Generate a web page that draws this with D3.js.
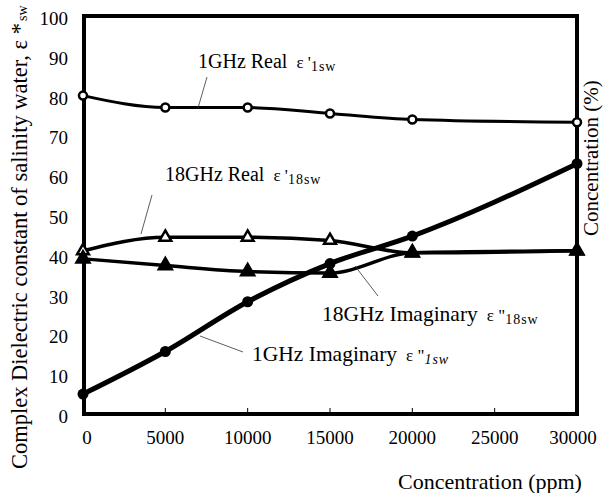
<!DOCTYPE html>
<html><head><meta charset="utf-8">
<script src="https://cdn.jsdelivr.net/npm/d3@7/dist/d3.min.js"></script>
<style>
html,body{margin:0;padding:0;background:#fff;overflow:hidden}
text{font-family:"Liberation Serif","Times New Roman",serif;fill:#000}
</style></head>
<body><svg id="c" width="604" height="493"></svg>
<script>
const concentration = [0, 5000, 10000, 15000, 20000, 30000];
const real1GHz  = [80, 77, 77, 75.5, 74, 73.3];
const imag1GHz  = [5, 15.7, 28.2, 37.8, 44.7, 62.9];
const real18GHz = [41, 44.4, 44.4, 43.6, 40.5, 41];
const imag18GHz = [39, 37.3, 35.8, 35.4, 40.5, 41];
const xTicks = [0, 5000, 10000, 15000, 20000, 25000, 30000];
const yTicks = [0, 10, 20, 30, 40, 50, 60, 70, 80, 90, 100];

const svg = d3.select("#c");
const x = d3.scaleLinear().domain([0, 30000]).range([83, 577]);
const y = d3.scaleLinear().domain([0, 100]).range([414, 16]);

// frame
svg.append("rect").attr("x", x(0)+1).attr("y", y(100)).attr("width", x(30000)-x(0)-1).attr("height", y(0)-y(100))
  .attr("fill", "none").attr("stroke", "#000").attr("stroke-width", 4);

// small inner ticks
svg.append("g").selectAll("line").data(xTicks.slice(1, -1)).join("line")
  .attr("x1", d => x(d)).attr("x2", d => x(d)).attr("y1", y(0)-2).attr("y2", y(0)-6)
  .attr("stroke", "#000").attr("stroke-width", 1);

// tick labels
svg.append("g").selectAll("text").data(yTicks).join("text")
  .attr("x", 68).attr("y", d => y(d) + 9).attr("text-anchor", "end")
  .attr("font-size", 19).text(d => d);
svg.append("g").selectAll("text").data(xTicks).join("text")
  .attr("x", d => x(d) + (d === 0 ? 4 : (d === 30000 ? -4 : 0))).attr("y", 444).attr("text-anchor", "middle")
  .attr("font-size", 19).text(d => d);

// axis titles
svg.append("text").attr("x", 398).attr("y", 489).attr("font-size", 22).text("Concentration (ppm)");
const yt = svg.append("text").attr("transform", "translate(27,469) rotate(-90)").attr("font-size", 22.5);
yt.append("tspan").text("Complex Dielectric constant of salinity water, ε *");
yt.append("tspan").attr("font-size", 14).attr("dx", 2).text("sw");
svg.append("text").attr("transform", "translate(598,236) rotate(-90)").attr("font-size", 21).text("Concentration (%)");

// lines
const pts = arr => concentration.map((c, i) => [c, arr[i]]);
const line = d3.line().x(d => x(d[0])).y(d => y(d[1])).curve(d3.curveMonotoneX);
const series = [
  {v: real1GHz, w: 3},
  {v: real18GHz, w: 3.5},
  {v: imag18GHz, w: 3.5},
  {v: imag1GHz, w: 5}
];
svg.append("g").selectAll("path").data(series).join("path")
  .attr("d", d => line(pts(d.v))).attr("fill", "none").attr("stroke", "#000")
  .attr("stroke-width", d => d.w).attr("stroke-linejoin", "round").attr("stroke-linecap", "round");

// markers
svg.append("g").selectAll("circle").data(pts(real1GHz)).join("circle")
  .attr("cx", d => x(d[0])).attr("cy", d => y(d[1])).attr("r", 4)
  .attr("fill", "#fff").attr("stroke", "#000").attr("stroke-width", 2.5);
const triO = d3.symbol().type(d3.symbolTriangle).size(60);
const triF = d3.symbol().type(d3.symbolTriangle).size(130);
svg.append("g").selectAll("path").data(pts(real18GHz)).join("path")
  .attr("transform", d => `translate(${x(d[0])},${y(d[1])})`).attr("d", triO)
  .attr("fill", "#fff").attr("stroke", "#000").attr("stroke-width", 2.5);
svg.append("g").selectAll("path").data(pts(imag18GHz)).join("path")
  .attr("transform", d => `translate(${x(d[0])},${y(d[1])})`).attr("d", triF)
  .attr("fill", "#000");
svg.append("g").selectAll("circle").data(pts(imag1GHz)).join("circle")
  .attr("cx", d => x(d[0])).attr("cy", d => y(d[1])).attr("r", 5.5).attr("fill", "#000");

// annotations with leader lines
const notes = [
  {t: "1GHz Real", x: 198, y: 68, fs: 20, g: "ε '", sub: "1sw", lx: [198, 108, 207, 77], italic: false},
  {t: "18GHz Real", x: 165, y: 181, fs: 20, g: "ε '", sub: "18sw", lx: [141, 234, 152, 195], italic: false},
  {t: "18GHz Imaginary", x: 322, y: 321, fs: 21.5, g: "ε \"", sub: "18sw", lx: [355, 266, 378, 296], italic: false},
  {t: "1GHz Imaginary", x: 252, y: 361, fs: 21.5, g: "ε \"", sub: "1sw", lx: [200, 336, 243, 352], italic: true}
];
notes.forEach(n => {
  svg.append("line").attr("x1", n.lx[0]).attr("y1", n.lx[1]).attr("x2", n.lx[2]).attr("y2", n.lx[3])
    .attr("stroke", "#333").attr("stroke-width", 0.8);
  const t = svg.append("text").attr("x", n.x).attr("y", n.y).attr("font-size", n.fs);
  t.append("tspan").text(n.t);
  t.append("tspan").attr("dx", 9).attr("font-size", 17).text(n.g);
  t.append("tspan").attr("dy", 3).attr("font-size", 14).attr("letter-spacing", 1)
    .attr("font-style", n.italic ? "italic" : "normal").text(n.sub);
});
</script></body></html>
